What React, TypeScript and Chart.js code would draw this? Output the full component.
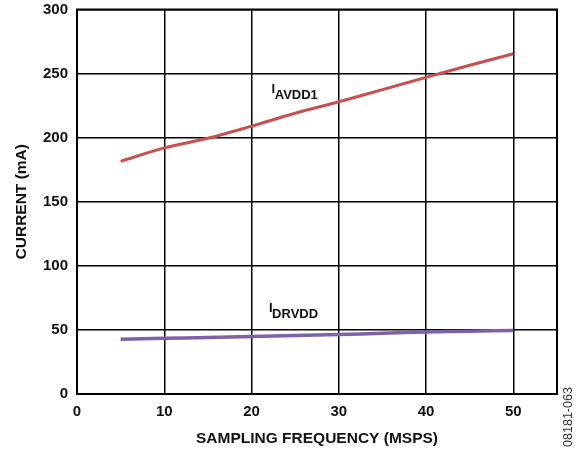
import React, { useEffect, useRef } from "react";
import { Chart, registerables } from "chart.js";

Chart.register(...registerables);

const freq = [5, 10, 15, 20, 25, 30, 35, 40, 45, 50];
const iAvdd1 = [181.5, 192, 199.5, 209, 219, 228, 237.5, 247, 256.5, 265.5];
const iDrvdd = [42.7, 43.5, 44, 44.8, 45.6, 46.4, 47.4, 48.4, 49, 49.5];
const xTicks = [0, 10, 20, 30, 40, 50];
const yTicks = [0, 50, 100, 150, 200, 250, 300];

const xTitle = "SAMPLING FREQUENCY (MSPS)";
const yTitle = "CURRENT (mA)";
const sideCode = "08181-063";
const seriesLabels = [
  { main: "I", sub: "AVDD1", x: 22.3, y: 234.5 },
  { main: "I", sub: "DRVDD", x: 22, y: 64 },
];

const FONT = "'Liberation Sans', Arial, sans-serif";

const textPlugin = {
  id: "textPlugin",
  afterDraw(chart: any) {
    const ctx = chart.ctx;
    const area = chart.chartArea;
    const xs = chart.scales.x;
    const ys = chart.scales.y;
    ctx.save();
    // frame
    ctx.strokeStyle = "#000";
    ctx.lineWidth = 2;
    ctx.strokeRect(area.left, area.top, area.right - area.left, area.bottom - area.top);
    // series labels
    ctx.fillStyle = "#111";
    ctx.textBaseline = "alphabetic";
    ctx.textAlign = "left";
    for (const l of seriesLabels) {
      const px = xs.getPixelForValue(l.x);
      const py = ys.getPixelForValue(l.y);
      ctx.font = `bold 13px ${FONT}`;
      ctx.fillText(l.main, px, py);
      const w = ctx.measureText(l.main).width;
      ctx.font = `bold 13px ${FONT}`;
      ctx.fillText(l.sub, px + w - 0.5, py + 6);
    }
    // x title
    ctx.font = `bold 15.5px ${FONT}`;
    ctx.textAlign = "center";
    ctx.textBaseline = "middle";
    ctx.fillText(xTitle, (area.left + area.right) / 2, 439);
    // y title
    ctx.save();
    ctx.translate(22, (area.top + area.bottom) / 2);
    ctx.rotate(-Math.PI / 2);
    ctx.fillText(yTitle, 0, 0);
    ctx.restore();
    // side code
    ctx.save();
    ctx.font = `12.5px ${FONT}`;
    ctx.fillStyle = "#333";
    ctx.translate(569, 417);
    ctx.rotate(-Math.PI / 2);
    ctx.fillText(sideCode, 0, 0);
    ctx.restore();
    ctx.restore();
  },
};

export default function App() {
  const ref = useRef<HTMLCanvasElement>(null);
  useEffect(() => {
    if (!ref.current) return;
    const chart = new Chart(ref.current, {
      type: "line",
      data: {
        datasets: [
          {
            label: "IAVDD1",
            data: freq.map((f, i) => ({ x: f, y: iAvdd1[i] })),
            borderColor: "#c9504c",
            borderWidth: 3,
            pointRadius: 0,
            tension: 0.3,
          },
          {
            label: "IDRVDD",
            data: freq.map((f, i) => ({ x: f, y: iDrvdd[i] })),
            borderColor: "#7e62a8",
            borderWidth: 3.5,
            pointRadius: 0,
            tension: 0.3,
          },
        ],
      },
      options: {
        animation: false,
        responsive: false,
        layout: { padding: { top: 9.5, right: 25, left: 0, bottom: 0 } },
        plugins: { legend: { display: false }, tooltip: { enabled: false } },
        scales: {
          x: {
            type: "linear",
            min: 0,
            max: 55,
            afterBuildTicks: (s: any) => {
              s.ticks = xTicks.map((v) => ({ value: v }));
            },
            afterFit: (s: any) => {
              s.height = 57;
              s.paddingLeft = 0;
              s.paddingRight = 0;
            },
            grid: { color: "#000", lineWidth: 1.5, drawTicks: false },
            border: { color: "#000", width: 2 },
            ticks: {
              color: "#111",
              padding: 9,
              maxRotation: 0,
              font: { family: FONT, size: 15, weight: "bold" },
            },
          },
          y: {
            type: "linear",
            min: 0,
            max: 300,
            afterBuildTicks: (s: any) => {
              s.ticks = yTicks.map((v) => ({ value: v }));
            },
            afterFit: (s: any) => {
              s.width = 77;
              s.paddingTop = 0;
              s.paddingBottom = 0;
            },
            grid: { color: "#000", lineWidth: 1.5, drawTicks: false },
            border: { color: "#000", width: 2 },
            ticks: {
              color: "#111",
              padding: 9,
              font: { family: FONT, size: 15, weight: "bold" },
            },
          },
        },
      },
      plugins: [textPlugin],
    });
    return () => chart.destroy();
  }, []);
  return (
    <div style={{ position: "fixed", left: 0, top: 0, width: 582, height: 451, background: "#fff" }}>
      <canvas ref={ref} width={582} height={451} style={{ width: 582, height: 451 }} />
    </div>
  );
}
